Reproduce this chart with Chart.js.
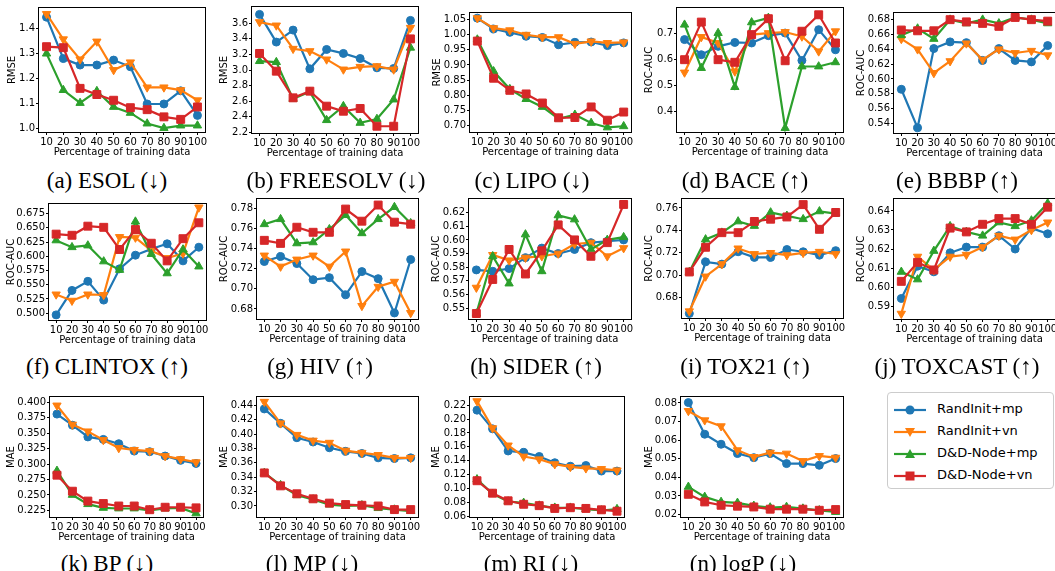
<!DOCTYPE html>
<html>
<head>
<meta charset="utf-8">
<script src="https://cdn.jsdelivr.net/npm/chart.js@4.4.0/dist/chart.umd.min.js"></script>
<style>
html, body { margin:0; padding:0; background:#fff; width:1055px; height:571px; overflow:hidden; }
.panel { position:absolute; }
.cap { position:absolute; font-family:"Liberation Serif","Times New Roman",serif; font-size:23px; color:#000;
       white-space:nowrap; line-height:1; transform:translate(-50%,-50%); }
#legend { position:absolute; left:887px; top:392px; width:165px; height:95px; border:1px solid #ccc;
          border-radius:4px; background:#fff; font-family:"DejaVu Sans",sans-serif; font-size:13px; color:#000; }
#legend .row { position:absolute; left:0; height:20px; }
#legend svg { position:absolute; left:5px; top:3px; }
#legend span { position:absolute; left:49px; top:2px; white-space:nowrap; }
</style>
</head>
<body>
<div id="legend"></div>
<script>
const pct = [10, 20, 30, 40, 50, 60, 70, 80, 90, 100];
const seriesNames = ['RandInit+mp', 'RandInit+vn', 'D&D-Node+mp', 'D&D-Node+vn'];

// (a) ESOL
const esolRandMp = [1.447, 1.280, 1.254, 1.254, 1.274, 1.247, 1.097, 1.097, 1.150, 1.051];
const esolRandVn = [1.460, 1.358, 1.277, 1.349, 1.234, 1.265, 1.164, 1.164, 1.153, 1.112];
const esolDdMp   = [1.300, 1.153, 1.101, 1.149, 1.085, 1.061, 1.018, 1.000, 1.010, 1.010];
const esolDdVn   = [1.328, 1.324, 1.160, 1.135, 1.112, 1.082, 1.074, 1.045, 1.035, 1.085];
const esolTicks  = [1.0, 1.1, 1.2, 1.3, 1.4];

// (b) FREESOLV
const freeRandMp = [3.715, 3.359, 3.513, 3.015, 3.264, 3.213, 3.148, 3.028, 3.020, 3.638];
const freeRandVn = [3.616, 3.573, 3.273, 3.243, 3.136, 3.007, 3.041, 3.050, 3.007, 3.543];
const freeDdMp   = [3.114, 3.101, 2.629, 2.719, 2.355, 2.535, 2.320, 2.370, 2.620, 3.286];
const freeDdVn   = [3.213, 2.985, 2.642, 2.728, 2.535, 2.470, 2.505, 2.277, 2.277, 3.400];
const freeTicks  = [2.2, 2.4, 2.6, 2.8, 3.0, 3.2, 3.4, 3.6];

// (c) LIPO
const lipoRandMp = [1.055, 1.019, 1.008, 0.995, 0.991, 0.967, 0.975, 0.976, 0.964, 0.973];
const lipoRandVn = [1.055, 1.022, 1.015, 1.000, 0.992, 0.992, 0.970, 0.978, 0.973, 0.975];
const lipoDdMp   = [0.984, 0.879, 0.820, 0.787, 0.761, 0.722, 0.735, 0.708, 0.693, 0.697];
const lipoDdVn   = [0.979, 0.856, 0.816, 0.804, 0.774, 0.725, 0.726, 0.761, 0.717, 0.744];
const lipoTicks  = [0.70, 0.75, 0.80, 0.85, 0.90, 0.95, 1.00, 1.05];

// (d) BACE
const baceRandMp = [0.675, 0.617, 0.649, 0.664, 0.662, 0.690, 0.700, 0.595, 0.713, 0.636];
const baceRandVn = [0.549, 0.685, 0.662, 0.553, 0.694, 0.700, 0.704, 0.687, 0.630, 0.707];
const baceDdMp   = [0.732, 0.566, 0.700, 0.493, 0.741, 0.758, 0.336, 0.572, 0.572, 0.588];
const baceDdVn   = [0.598, 0.742, 0.598, 0.588, 0.694, 0.755, 0.594, 0.707, 0.770, 0.662];
const baceTicks  = [0.4, 0.5, 0.6, 0.7];

// (e) BBBP
const bbbpRandMp = [0.586, 0.534, 0.641, 0.650, 0.649, 0.625, 0.641, 0.625, 0.623, 0.645];
const bbbpRandVn = [0.654, 0.640, 0.608, 0.624, 0.648, 0.626, 0.640, 0.635, 0.638, 0.632];
const bbbpDdMp   = [0.659, 0.668, 0.654, 0.680, 0.675, 0.680, 0.675, 0.683, 0.680, 0.675];
const bbbpDdVn   = [0.666, 0.665, 0.665, 0.680, 0.677, 0.675, 0.671, 0.683, 0.680, 0.678];
const bbbpTicks  = [0.54, 0.56, 0.58, 0.60, 0.62, 0.64, 0.66, 0.68];

// (f) CLINTOX
const clinRandMp = [0.497, 0.540, 0.556, 0.523, 0.578, 0.602, 0.613, 0.622, 0.592, 0.616];
const clinRandVn = [0.533, 0.522, 0.533, 0.532, 0.634, 0.633, 0.610, 0.597, 0.605, 0.686];
const clinDdMp   = [0.628, 0.616, 0.619, 0.591, 0.576, 0.661, 0.604, 0.570, 0.612, 0.582];
const clinDdVn   = [0.639, 0.637, 0.653, 0.651, 0.612, 0.647, 0.623, 0.592, 0.631, 0.659];
const clinTicks  = [0.500, 0.525, 0.550, 0.575, 0.600, 0.625, 0.650, 0.675];

// (g) HIV
const hivRandMp = [0.727, 0.732, 0.725, 0.709, 0.711, 0.694, 0.717, 0.710, 0.676, 0.729];
const hivRandVn = [0.733, 0.722, 0.729, 0.733, 0.722, 0.737, 0.683, 0.702, 0.707, 0.676];
const hivDdMp   = [0.764, 0.769, 0.745, 0.746, 0.759, 0.773, 0.755, 0.769, 0.781, 0.765];
const hivDdVn   = [0.748, 0.745, 0.761, 0.756, 0.756, 0.779, 0.767, 0.783, 0.766, 0.764];
const hivTicks  = [0.68, 0.70, 0.72, 0.74, 0.76, 0.78];

// (h) SIDER
const siderRandMp = [0.578, 0.577, 0.579, 0.587, 0.594, 0.590, 0.593, 0.598, 0.599, 0.600];
const siderRandVn = [0.565, 0.589, 0.585, 0.587, 0.588, 0.590, 0.597, 0.598, 0.588, 0.594];
const siderDdMp   = [0.546, 0.588, 0.568, 0.604, 0.577, 0.618, 0.615, 0.593, 0.600, 0.602];
const siderDdVn   = [0.546, 0.571, 0.593, 0.575, 0.592, 0.611, 0.600, 0.588, 0.598, 0.626];
const siderTicks  = [0.55, 0.56, 0.57, 0.58, 0.59, 0.60, 0.61, 0.62];

// (i) TOX21
const tox21RandMp = [0.666, 0.712, 0.710, 0.721, 0.716, 0.716, 0.723, 0.721, 0.718, 0.722];
const tox21RandVn = [0.668, 0.699, 0.710, 0.724, 0.719, 0.720, 0.718, 0.720, 0.721, 0.719];
const tox21DdMp   = [0.703, 0.732, 0.738, 0.748, 0.744, 0.756, 0.753, 0.750, 0.757, 0.755];
const tox21DdVn   = [0.703, 0.725, 0.738, 0.738, 0.748, 0.750, 0.752, 0.763, 0.741, 0.756];
const tox21Ticks  = [0.68, 0.70, 0.72, 0.74, 0.76];

// (j) TOXCAST
const toxcRandMp = [0.594, 0.611, 0.608, 0.618, 0.621, 0.621, 0.627, 0.620, 0.631, 0.628];
const toxcRandVn = [0.586, 0.616, 0.609, 0.616, 0.617, 0.621, 0.627, 0.625, 0.630, 0.634];
const toxcDdMp   = [0.608, 0.604, 0.619, 0.632, 0.629, 0.627, 0.634, 0.632, 0.635, 0.644];
const toxcDdVn   = [0.603, 0.613, 0.609, 0.631, 0.629, 0.633, 0.636, 0.636, 0.633, 0.642];
const toxcTicks  = [0.59, 0.60, 0.61, 0.62, 0.63, 0.64];

// (k) BP
const bpRandMp = [0.381, 0.363, 0.344, 0.340, 0.333, 0.321, 0.320, 0.313, 0.306, 0.301];
const bpRandVn = [0.395, 0.364, 0.353, 0.339, 0.326, 0.323, 0.321, 0.313, 0.308, 0.303];
const bpDdMp   = [0.289, 0.250, 0.235, 0.229, 0.228, 0.228, 0.225, 0.228, 0.229, 0.220];
const bpDdVn   = [0.282, 0.256, 0.240, 0.236, 0.232, 0.232, 0.226, 0.230, 0.230, 0.229];
const bpTicks  = [0.225, 0.250, 0.275, 0.300, 0.325, 0.350, 0.375, 0.400];

// (l) MP
const mpRandMp = [0.435, 0.415, 0.395, 0.389, 0.381, 0.376, 0.373, 0.367, 0.366, 0.367];
const mpRandVn = [0.445, 0.415, 0.399, 0.391, 0.388, 0.377, 0.374, 0.371, 0.367, 0.367];
const mpDdMp   = [0.346, 0.329, 0.315, 0.309, 0.302, 0.300, 0.301, 0.297, 0.295, 0.293];
const mpDdVn   = [0.346, 0.328, 0.317, 0.310, 0.304, 0.302, 0.301, 0.300, 0.295, 0.295];
const mpTicks  = [0.30, 0.32, 0.34, 0.36, 0.38, 0.40, 0.42, 0.44];

// (m) RI
const riRandMp = [0.213, 0.186, 0.154, 0.152, 0.146, 0.137, 0.132, 0.133, 0.125, 0.125];
const riRandVn = [0.226, 0.187, 0.162, 0.146, 0.142, 0.135, 0.131, 0.129, 0.128, 0.126];
const riDdMp   = [0.113, 0.092, 0.081, 0.079, 0.075, 0.072, 0.072, 0.070, 0.068, 0.070];
const riDdVn   = [0.111, 0.093, 0.082, 0.077, 0.075, 0.071, 0.072, 0.071, 0.069, 0.067];
const riTicks  = [0.06, 0.08, 0.10, 0.12, 0.14, 0.16, 0.18, 0.20, 0.22];

// (n) logP
const logpRandMp = [0.0802, 0.0632, 0.0578, 0.0528, 0.0506, 0.0528, 0.0474, 0.0474, 0.0465, 0.0501];
const logpRandVn = [0.0757, 0.0707, 0.0675, 0.0546, 0.0510, 0.0533, 0.0528, 0.0488, 0.0515, 0.0506];
const logpDdMp   = [0.0349, 0.0295, 0.0268, 0.0263, 0.0247, 0.0238, 0.0241, 0.0232, 0.0223, 0.0214];
const logpDdVn   = [0.0309, 0.0268, 0.0250, 0.0245, 0.0241, 0.0229, 0.0229, 0.0229, 0.0223, 0.0227];
const logpTicks  = [0.02, 0.03, 0.04, 0.05, 0.06, 0.07, 0.08];

const colors = ['#1f77b4', '#ff7f0e', '#2ca02c', '#d62728'];
const shapes = ['circle', 'triangle', 'triangle', 'rect'];
const rotations = [0, 180, 0, 0];
const radii = [4, 4.8, 4.8, 5.6];

// box = plot area [left, top, right, bottom], lx = centre of the y-axis title, cap = caption centre
const panels = [
  { cap:'(a) ESOL (↓)',     capX:107, capY:180, box:[39,8,205,132],    lx:12,  yl:'RMSE',    ticks:esolTicks,  dec:1, min:0.984, max:1.484, s:[esolRandMp, esolRandVn, esolDdMp, esolDdVn] },
  { cap:'(b) FREESOLV (↓)', capX:336, capY:180, box:[252,7,418,133],   lx:224, yl:'RMSE',    ticks:freeTicks,  dec:1, min:2.19,  max:3.81,  s:[freeRandMp, freeRandVn, freeDdMp, freeDdVn] },
  { cap:'(c) LIPO (↓)',     capX:532, capY:180, box:[470,13,631,132],  lx:437, yl:'RMSE',    ticks:lipoTicks,  dec:2, min:0.678, max:1.072, s:[lipoRandMp, lipoRandVn, lipoDdMp, lipoDdVn] },
  { cap:'(d) BACE (↑)',     capX:745, capY:180, box:[677,8,843,132],   lx:649, yl:'ROC-AUC', ticks:baceTicks,  dec:1, min:0.321, max:0.796, s:[baceRandMp, baceRandVn, baceDdMp, baceDdVn] },
  { cap:'(e) BBBP (↑)',     capX:957, capY:180, box:[894,13,1055,133], lx:861, yl:'ROC-AUC', ticks:bbbpTicks,  dec:2, min:0.527, max:0.689, s:[bbbpRandMp, bbbpRandVn, bbbpDdMp, bbbpDdVn] },
  { cap:'(f) CLINTOX (↑)',  capX:107, capY:366, box:[49,204,206,320],  lx:11,  yl:'ROC-AUC', ticks:clinTicks,  dec:3, min:0.488, max:0.692, s:[clinRandMp, clinRandVn, clinDdMp, clinDdVn] },
  { cap:'(g) HIV (↑)',      capX:320, capY:366, box:[257,199,418,319], lx:224, yl:'ROC-AUC', ticks:hivTicks,   dec:2, min:0.670, max:0.789, s:[hivRandMp, hivRandVn, hivDdMp, hivDdVn] },
  { cap:'(h) SIDER (↑)',    capX:536, capY:366, box:[469,199,631,319], lx:436, yl:'ROC-AUC', ticks:siderTicks, dec:2, min:0.542, max:0.630, s:[siderRandMp, siderRandVn, siderDdMp, siderDdVn] },
  { cap:'(i) TOX21 (↑)',    capX:745, capY:366, box:[682,199,843,318], lx:649, yl:'ROC-AUC', ticks:tox21Ticks, dec:2, min:0.662, max:0.768, s:[tox21RandMp, tox21RandVn, tox21DdMp, tox21DdVn] },
  { cap:'(j) TOXCAST (↑)',  capX:957, capY:366, box:[894,199,1055,319],lx:861, yl:'ROC-AUC', ticks:toxcTicks,  dec:2, min:0.5832,max:0.6463,s:[toxcRandMp, toxcRandVn, toxcDdMp, toxcDdVn] },
  { cap:'(k) BP (↓)',       capX:107, capY:563, box:[50,397,203,517],  lx:11,  yl:'MAE',     ticks:bpTicks,    dec:3, min:0.2142,max:0.4087,s:[bpRandMp, bpRandVn, bpDdMp, bpDdVn] },
  { cap:'(l) MP (↓)',       capX:312, capY:563, box:[257,397,418,517], lx:224, yl:'MAE',     ticks:mpTicks,    dec:2, min:0.2847,max:0.4516,s:[mpRandMp, mpRandVn, mpDdMp, mpDdVn] },
  { cap:'(m) RI (↓)',       capX:531, capY:563, box:[470,397,624,517], lx:436, yl:'MAE',     ticks:riTicks,    dec:2, min:0.0586,max:0.232, s:[riRandMp, riRandVn, riDdMp, riDdVn] },
  { cap:'(n) logP (↓)',     capX:743, capY:563, box:[681,397,843,517], lx:649, yl:'MAE',     ticks:logpTicks,  dec:2, min:0.0187,max:0.0832,s:[logpRandMp, logpRandVn, logpDdMp, logpDdVn] }
];

const PAD_T = 8, PAD_R = 14, XH = 26;
const FONT = 'DejaVu Sans';

// matplotlib-like box around the axes
const frame = {
  id: 'frame',
  afterDatasetsDraw(chart) {
    const a = chart.chartArea, ctx = chart.ctx;
    ctx.save();
    ctx.strokeStyle = '#000';
    ctx.lineWidth = 1;
    ctx.strokeRect(Math.round(a.left) - 0.5, Math.round(a.top) - 0.5, Math.round(a.right - a.left) + 1, Math.round(a.bottom - a.top) + 1);
    ctx.restore();
  }
};

Chart.defaults.font.family = FONT;

function makePanel(p) {
  const [l, t, r, b] = p.box;
  const left = Math.round(p.lx - 6);
  const yw = l - left;
  const w = r - left + PAD_R;
  const h = b - t + PAD_T + XH;
  const div = document.createElement('div');
  div.className = 'panel';
  div.style.left = left + 'px';
  div.style.top = (t - PAD_T) + 'px';
  div.style.width = w + 'px';
  div.style.height = h + 'px';
  const cv = document.createElement('canvas');
  cv.width = w; cv.height = h;
  cv.style.width = w + 'px'; cv.style.height = h + 'px';
  div.appendChild(cv);
  document.body.appendChild(div);

  const cap = document.createElement('div');
  cap.className = 'cap';
  cap.textContent = p.cap;
  cap.style.left = p.capX + 'px';
  cap.style.top = p.capY + 'px';
  document.body.appendChild(cap);

  const datasets = p.s.map((vals, i) => ({
    label: seriesNames[i],
    data: vals.map((v, j) => ({ x: pct[j], y: v })),
    borderColor: colors[i],
    backgroundColor: colors[i],
    borderWidth: 2.2,
    pointStyle: shapes[i],
    pointRotation: rotations[i],
    pointRadius: radii[i],
    pointBorderWidth: 1,
    tension: 0,
    order: 4 - i
  }));

  const tickFont = { family: FONT, size: 10 };
  new Chart(cv, {
    type: 'line',
    data: { datasets },
    options: {
      responsive: false,
      animation: false,
      devicePixelRatio: 1,
      layout: { padding: { top: PAD_T, right: PAD_R, left: 0, bottom: 0 } },
      plugins: { legend: { display: false }, tooltip: { enabled: false } },
      scales: {
        x: {
          type: 'linear', min: 5.5, max: 104.5,
          afterBuildTicks: s => { s.ticks = pct.map(v => ({ value: v })); },
          afterFit: s => { s.height = XH; },
          ticks: { color: '#000', font: tickFont, padding: 1, autoSkip: false, maxRotation: 0, minRotation: 0, callback: v => String(v) },
          grid: { display: true, drawOnChartArea: false, tickLength: 3, tickColor: '#000', color: '#000' },
          border: { display: false },
          title: { display: true, text: 'Percentage of training data', color: '#000', font: tickFont, padding: 0 }
        },
        y: {
          min: p.min, max: p.max,
          afterBuildTicks: s => { s.ticks = p.ticks.map(v => ({ value: v })); },
          afterFit: s => { s.width = yw; },
          ticks: { color: '#000', font: tickFont, padding: 1, callback: v => v.toFixed(p.dec) },
          grid: { display: true, drawOnChartArea: false, tickLength: 3, tickColor: '#000', color: '#000' },
          border: { display: false },
          title: { display: true, text: p.yl, color: '#000', font: tickFont, padding: 0 }
        }
      }
    },
    plugins: [frame]
  });
}

panels.forEach(makePanel);

// legend box
const legend = document.getElementById('legend');
const markerSvg = [
  c => `<circle cx="17" cy="8" r="4.5" fill="${c}"/>`,
  c => `<polygon points="12,4 22,4 17,13" fill="${c}"/>`,
  c => `<polygon points="12,12 22,12 17,3" fill="${c}"/>`,
  c => `<rect x="12.5" y="3.5" width="9" height="9" fill="${c}"/>`
];
seriesNames.forEach((name, i) => {
  const row = document.createElement('div');
  row.className = 'row';
  row.style.top = (6 + i * 22) + 'px';
  row.innerHTML = `<svg width="36" height="16"><line x1="1" y1="8" x2="33" y2="8" stroke="${colors[i]}" stroke-width="2.2"/>${markerSvg[i](colors[i])}</svg><span></span>`;
  row.querySelector('span').textContent = name;
  legend.appendChild(row);
});
</script>
</body>
</html>
